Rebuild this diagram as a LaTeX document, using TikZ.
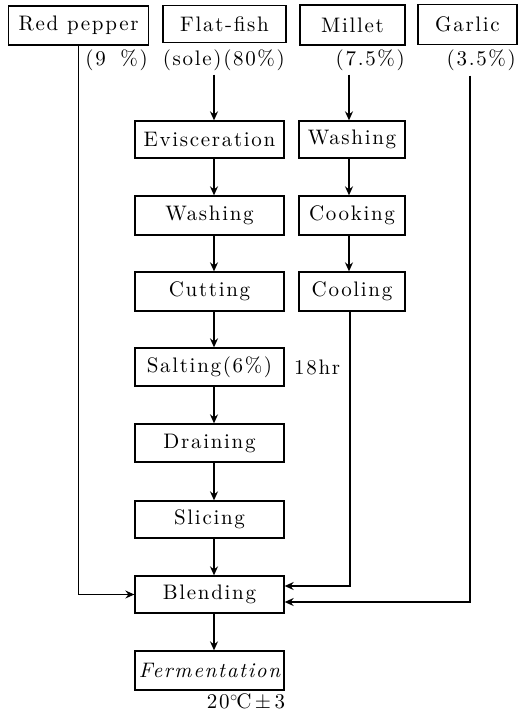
\documentclass[tikz,border=0pt]{standalone}
\usepackage{fontspec}
\newfontfamily\lmsp{lmroman10-regular}[Extension=.otf, LetterSpace=8, ItalicFont=lmroman10-italic]
\usetikzlibrary{arrows.meta}
\begin{document}
\begin{tikzpicture}[x=1pt,y=-1pt,
  txt/.style={font=\lmsp\fontsize{21}{25}\selectfont, inner sep=0pt},
  box/.style={txt, draw, line width=1.3pt, minimum height=37pt},
  mainbox/.style={box, minimum width=149pt},
  milbox/.style={box, minimum width=106pt},
  flow/.style={line width=1.3pt, -{Stealth[length=9pt,width=8pt,inset=3pt]}}]
\useasboundingbox (0,0) rectangle (518,715);
% top row
\node[box, minimum width=140pt, minimum height=39pt] (red) at (78.5,25.5) {Red pepper};
\node[box, minimum width=123pt] (fish) at (224.5,24) {Flat-fish};
\node[box, minimum width=105pt, minimum height=40pt] (millet) at (352.5,25) {Millet};
\node[box, minimum width=99pt, minimum height=40pt] (garlic) at (467.5,24.5) {Garlic};
% labels
\node[txt, anchor=east] (redlab) at (148,60) {(9 \hspace{6pt}\%)};
\node[txt, anchor=east, inner ysep=4pt] (fishlab) at (285,60) {(sole)(80\%)};
\node[txt, anchor=east, inner ysep=4pt] (millab) at (405,60) {(7.5\%)};
\node[txt, anchor=east, inner ysep=5pt] (garlab) at (516,60) {(3.5\%)};
% main column
\coordinate (colA) at (214,0);
\coordinate (colB) at (349,0);
\node[mainbox] (evis) at (209.5,139.5) {Evisceration};
\node[mainbox, minimum height=39pt] (wash) at (209.5,215.5) {Washing};
\node[mainbox, minimum height=39pt] (cut) at (209.5,291.5) {Cutting};
\node[mainbox, minimum height=38pt] (salt) at (209.5,367) {Salting(6\%)};
\node[mainbox, minimum height=38pt] (drain) at (209.5,443) {Draining};
\node[mainbox] (slice) at (209.5,519.5) {Slicing};
\node[mainbox] (blend) at (209.5,594.5) {Blending};
\node[mainbox, minimum height=39pt] (ferm) at (209.5,670.5) {\itshape Fermentation};
\node[txt, anchor=west] (hr) at (294,367) {18hr};
\node[txt] (temp) at (246,702) {20\kern0.5pt$^{\circ}$\kern-1.5pt C\,$\pm$\,3};
% millet column
\node[milbox] (mwash) at (352,139.5) {Washing};
\node[milbox, minimum height=39pt] (cook) at (352,215.5) {Cooking};
\node[milbox, minimum height=39pt] (cool) at (352,291.5) {Cooling};
% connectors main
\draw[flow] (fishlab.south -| colA) -- (evis.north -| colA);
\draw[flow] (evis.south -| colA) -- (wash.north -| colA);
\draw[flow] (wash.south -| colA) -- (cut.north -| colA);
\draw[flow] (cut.south -| colA) -- (salt.north -| colA);
\draw[flow] (salt.south -| colA) -- (drain.north -| colA);
\draw[flow] (drain.south -| colA) -- (slice.north -| colA);
\draw[flow] (slice.south -| colA) -- (blend.north -| colA);
\draw[flow] (blend.south -| colA) -- (ferm.north -| colA);
% millet connectors
\draw[flow] (millab.south -| colB) -- (mwash.north -| colB);
\draw[flow] (mwash.south -| colB) -- (cook.north -| colB);
\draw[flow] (cook.south -| colB) -- (cool.north -| colB);
% side feeds
\coordinate (redturn) at (78.5,594.5);
\draw[flow] (red.south) -- (redturn) -- (blend.west);
\coordinate (coolturn) at (350,586);
\draw[flow] (cool.south -| coolturn) -- (coolturn) -- ([yshift=8.5pt]blend.east);
\coordinate (garturn) at (470,602);
\draw[flow] (garlab.south -| garturn) -- (garturn) -- ([yshift=-7.5pt]blend.east);
\end{tikzpicture}
\end{document}
